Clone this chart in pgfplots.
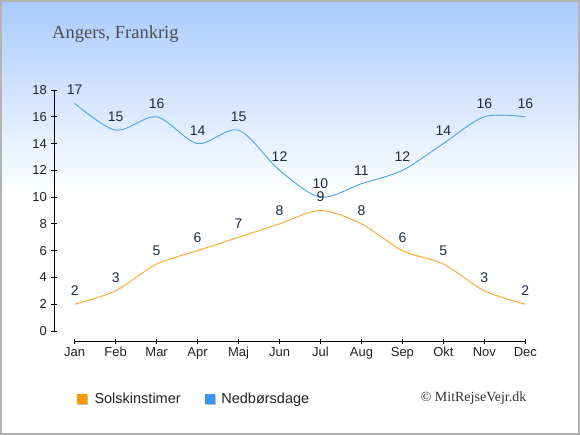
\documentclass[border=0pt]{standalone}
\usepackage{pgfplots}
\pgfplotsset{compat=1.18}
\usepackage{fontspec}
\setmainfont{Liberation Sans}
\newfontfamily\seriffont{Liberation Serif}
\pgfplotsset{/pgf/number format/assume math mode=true}
\definecolor{bgtop}{HTML}{A9CBFF}
\definecolor{sunc}{HTML}{FFA526}
\definecolor{rainc}{HTML}{4AA3EE}
\definecolor{sunsq}{HTML}{FF9900}
\definecolor{rainsq}{HTML}{3399EE}
\definecolor{lab}{HTML}{1E2A44}
\definecolor{tickc}{HTML}{222222}
\definecolor{frame}{HTML}{B4B4B4}
\begin{document}
\begin{tikzpicture}[x=1pt,y=1pt]
\useasboundingbox (0,0) rectangle (580,435);
\fill[white] (0,0) rectangle (580,435);
\shade[top color=bgtop, bottom color=white] (0,240) rectangle (580,435);
\draw[frame, line width=1.6pt] (0.8,0.8) rectangle (579.2,434.2);
\node[anchor=base west, inner sep=0pt, text=black!70, font=\seriffont\fontsize{18.5}{20}\selectfont] at (52,396) {Angers, Frankrig};
% y axis
\begin{axis}[
  at={(54pt,104pt)}, anchor=south west,
  scale only axis, width=10pt, height=241pt,
  xmin=0, xmax=1, ymin=0, ymax=18,
  hide x axis,
  axis y line=left,
  axis line style={-, line width=0.9pt, black},
  ytick={0,2,...,18},
  tick align=center,
  major tick length=5pt,
  tick style={line width=0.9pt, black},
  yticklabel style={font=\fontsize{13}{15}\selectfont, text=tickc, anchor=east, inner sep=0pt, xshift=-4.5pt},
  yticklabel={\pgfmathprintnumber[assume math mode=true]{\tick}},
]
\end{axis}
% data axis
\begin{axis}[
  at={(74.7pt,93.7pt)}, anchor=south west,
  scale only axis, width=450.6pt, height=251.3pt,
  xmin=0, xmax=11, ymin=-0.769, ymax=18,
  hide y axis,
  axis x line=bottom,
  axis line style={-, line width=0.9pt, black},
  xtick={0,...,11},
  xticklabels={Jan,Feb,Mar,Apr,Maj,Jun,Jul,Aug,Sep,Okt,Nov,Dec},
  tick align=center,
  major tick length=4.5pt,
  tick style={line width=0.9pt, black},
  xticklabel style={font=\fontsize{13}{15}\selectfont, text=tickc, anchor=north, inner sep=0pt, yshift=-3.5pt},
  clip=false,
  nodes near coords={\pgfmathprintnumber[assume math mode=true]{\pgfplotspointmeta}},
  every node near coord/.style={font=\fontsize{14}{16}\selectfont, text=lab, anchor=base, inner sep=0pt, yshift=8.5pt},
]
\addplot[sunc, line width=0.9pt, smooth, tension=0.5, mark=none] coordinates {
(0,2) (1,3) (2,5) (3,6) (4,7) (5,8) (6,9) (7,8) (8,6) (9,5) (10,3) (11,2)};
\addplot[rainc, line width=0.9pt, smooth, tension=0.5, mark=none] coordinates {
(0,17) (1,15) (2,16) (3,14) (4,15) (5,12) (6,10) (7,11) (8,12) (9,14) (10,16) (11,16)};
\end{axis}
% legend
\fill[black!25] (78,30) rectangle (88,40);
\fill[sunsq] (77,31) rectangle (87,41);
\node[anchor=base west, inner sep=0pt, font=\fontsize{14.5}{16}\selectfont, text=tickc] at (94.3,31.7) {Solskinstimer};
\fill[black!25] (205.6,30) rectangle (215.6,40);
\fill[rainsq] (204.6,31) rectangle (214.6,41);
\node[anchor=base west, inner sep=0pt, font=\fontsize{14.5}{16}\selectfont, text=tickc] at (221.2,31.7) {Nedbørsdage};
\node[anchor=base east, inner sep=0pt, font=\seriffont\fontsize{14}{16}\selectfont, text=black!80] at (526.5,33.3) {© MitRejseVejr.dk};
\end{tikzpicture}
\end{document}
